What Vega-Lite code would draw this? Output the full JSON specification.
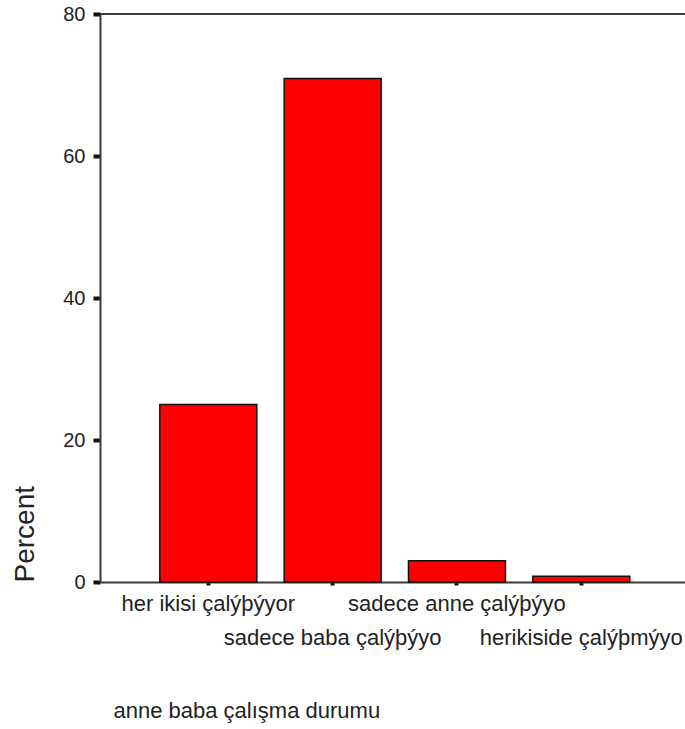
{
  "$schema": "https://vega.github.io/schema/vega-lite/v6.json",
  "width": 585,
  "height": 568,
  "autosize": {"type": "none"},
  "padding": {"left": 100, "top": 14, "right": 0, "bottom": 147},
  "background": "white",
  "config": {
    "view": {"stroke": null},
    "font": "Liberation Sans",
    "axis": {"grid": false, "domainColor": "#3a3a3a", "domainWidth": 2, "tickColor": "#111", "labelColor": "#222", "titleColor": "#222", "labelFont": "Liberation Sans", "titleFont": "Liberation Sans", "titleFontWeight": "normal"}
  },
  "data": {
    "values": [
      {"durum": "her ikisi çalýþýyor", "percent": 25.0},
      {"durum": "sadece baba çalýþýyo", "percent": 70.9},
      {"durum": "sadece anne çalýþýyo", "percent": 3.0},
      {"durum": "herikiside çalýþmýyo", "percent": 0.8}
    ]
  },
  "layer": [
    {
      "mark": {"type": "bar", "color": "#ff0000", "stroke": "#111", "strokeWidth": 1.5},
      "encoding": {
        "x": {
          "field": "durum", "type": "nominal", "sort": null,
          "scale": {"paddingInner": 0.22, "paddingOuter": 0.4626, "align": 0.52},
          "axis": {
            "title": "anne baba çalışma durumu",
            "titleFontSize": 22,
            "titleAnchor": "start",
            "titleAlign": "left",
            "titleBaseline": "alphabetic",
            "titleX": 13,
            "titleY": 135,
            "labelAngle": 0,
            "labelFontSize": 22,
            "labelLimit": 0,
            "labelOverlap": false,
            "labelBaseline": "top",
            "labelPadding": {"condition": {"test": "datum.value === 'sadece baba çalýþýyo' || datum.value === 'herikiside çalýþmýyo'", "value": 42}, "value": 8},
            "tickSize": 3,
            "tickWidth": 4
          }
        },
        "y": {
          "field": "percent", "type": "quantitative",
          "scale": {"domain": [0, 80], "nice": false},
          "axis": {
            "title": "Percent",
            "titleFontSize": 28,
            "titleAnchor": "start",
            "titleAlign": "left",
            "titleBaseline": "alphabetic",
            "titleX": -67,
            "titleY": 568,
            "values": [0, 20, 40, 60, 80],
            "labelFontSize": 20,
            "labelPadding": 8,
            "tickSize": 7,
            "tickWidth": 4
          }
        }
      }
    },
    {
      "mark": {"type": "rule", "color": "#3a3a3a", "strokeWidth": 2},
      "encoding": {"y": {"datum": 80}}
    }
  ]
}
